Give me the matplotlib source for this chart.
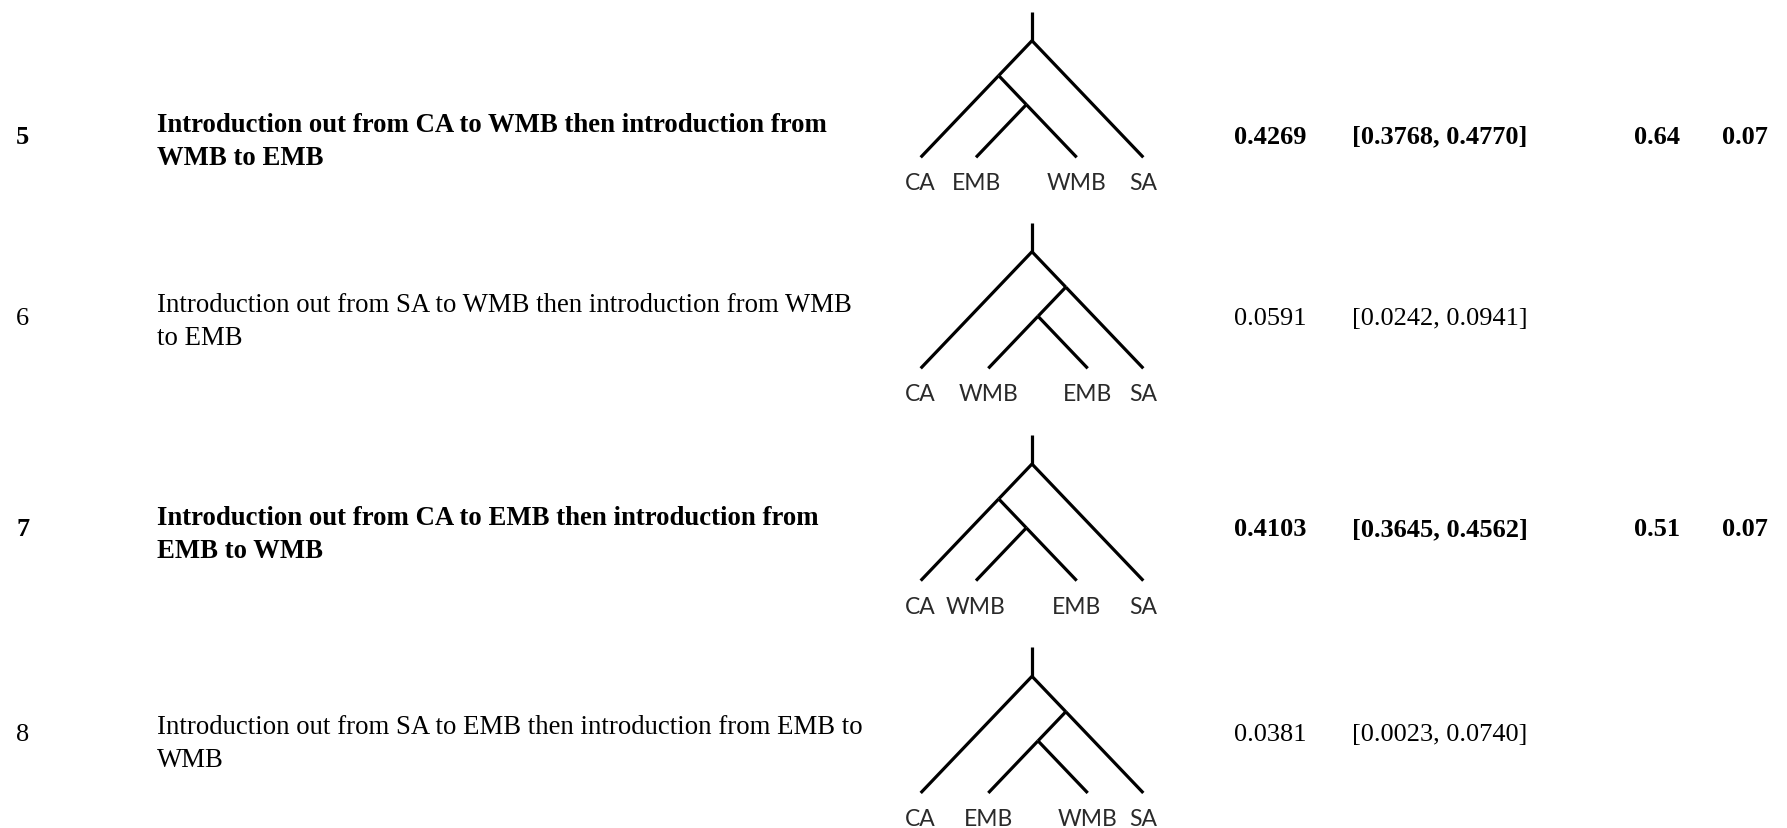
import matplotlib
matplotlib.use("Agg")
import matplotlib.pyplot as plt

# ---- data ----
row_ids = ["5", "6", "7", "8"]
descriptions = [
    "Introduction out from CA to WMB then introduction from\nWMB to EMB",
    "Introduction out from SA to WMB then introduction from WMB\nto EMB",
    "Introduction out from CA to EMB then introduction from\nEMB to WMB",
    "Introduction out from SA to EMB then introduction from EMB to\nWMB",
]
posterior = ["0.4269", "0.0591", "0.4103", "0.0381"]
intervals = ["[0.3768, 0.4770]", "[0.0242, 0.0941]", "[0.3645, 0.4562]", "[0.0023, 0.0740]"]
col_a = ["0.64", "", "0.51", ""]
col_b = ["0.07", "", "0.07", ""]
bold_rows = [True, False, True, False]
# tree topologies (nested tuples)
trees = [
    (("CA", ("EMB", "WMB")), "SA"),
    ("CA", (("WMB", "EMB"), "SA")),
    (("CA", ("WMB", "EMB")), "SA"),
    ("CA", (("EMB", "WMB"), "SA")),
]

# ---- layout ----
W, H = 1787, 829
fig = plt.figure(figsize=(W / 100, H / 100), dpi=100)
ax = fig.add_axes([0, 0, 1, 1])
ax.set_xlim(0, W)
ax.set_ylim(H, 0)
ax.axis("off")

text_y = [137, 319, 530, 735]
desc_y = [142, 322, 535, 744]
root_y = [41.7, 252.7, 465.0, 677.3]
x_id, x_desc = 16, 157
x_cols = [1234, 1352, 1634, 1722]
fs = 19
serif = ["Liberation Serif", "DejaVu Serif"]

for i in range(len(row_ids)):
    w = "bold" if bold_rows[i] else "normal"
    y = text_y[i]
    ax.text(x_id, y, row_ids[i], fontsize=fs, fontweight=w, family=serif, va="center", ha="left")
    ax.text(x_desc, desc_y[i], descriptions[i], fontsize=19.3, fontweight=w, family=serif, va="center",
            ha="left", linespacing=1.4)
    for xc, val in zip(x_cols, [posterior[i], intervals[i], col_a[i], col_b[i]]):
        if val:
            ax.text(xc, y, val, fontsize=fs, fontweight=w, family=serif, va="center", ha="left")

# tree drawing
x_left, x_right = 920.7, 1143.3
slope = 1.048
lw = 2.3


def leaves(t):
    return [t] if isinstance(t, str) else leaves(t[0]) + leaves(t[1])


def draw(t, tipx, tip_y):
    """return (x, y) of node, drawing branches to children"""
    if isinstance(t, str):
        return tipx[t], tip_y
    lv = leaves(t)
    xs = [tipx[n] for n in lv]
    xl, xr = min(xs), max(xs)
    nx = (xl + xr) / 2
    ny = tip_y - (xr - xl) / 2 * slope
    for c in t:
        cx, cy = draw(c, tipx, tip_y)
        ax.plot([nx, cx], [ny, cy], color="black", lw=lw, solid_capstyle="butt")
    return nx, ny


for i, t in enumerate(trees):
    lv = leaves(t)
    inner_left = isinstance(t[0], tuple)
    if inner_left:
        offs = [0, 55.3, 156.0, 222.6]
    else:
        offs = [0, 67.6, 167.0, 222.6]
    tipx = {n: x_left + o for n, o in zip(lv, offs)}
    tip_y = root_y[i] + (x_right - x_left) / 2 * slope
    rx, ry = draw(t, tipx, tip_y)
    ax.plot([rx, rx], [ry, ry - 29], color="black", lw=lw, solid_capstyle="butt")
    for n in lv:
        ax.text(tipx[n], tip_y + 25.5, n, fontsize=16.5, family=["Lato", "DejaVu Sans"],
                ha="center", va="center", color="#2a2a2a")

fig.savefig("out.png", dpi=100, facecolor="white")
